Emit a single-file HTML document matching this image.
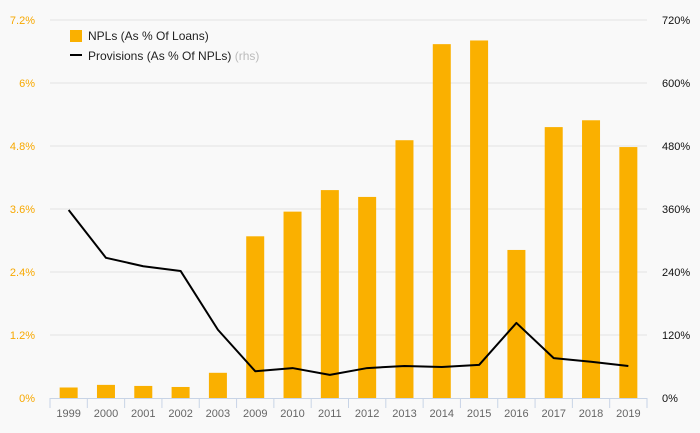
<!DOCTYPE html>
<html><head><meta charset="utf-8"><style>
html,body{margin:0;padding:0;background:#f9f9f9;}
svg{display:block;font-family:"Liberation Sans",sans-serif;}
</style></head><body>
<svg id="chart" width="700" height="433"></svg>
<script>
const categories=["1999","2000","2001","2002","2003","2009","2010","2011","2012","2013","2014","2015","2016","2017","2018","2019"];
const nplValues=[0.2,0.25,0.23,0.21,0.48,3.08,3.55,3.96,3.83,4.91,6.74,6.81,2.82,5.16,5.29,4.78];
const provisionValues=[358,267,251,242,130,51,57,44,57,61,59,63,143,76,69,61];
const leftTicks=[0,1.2,2.4,3.6,4.8,6,7.2];
const leftTickLabels=["0%","1.2%","2.4%","3.6%","4.8%","6%","7.2%"];
const rightTickLabels=["0%","120%","240%","360%","480%","600%","720%"];
const rightTicks=[0,120,240,360,480,600,720];

const svg=document.getElementById('chart');
const NS='http://www.w3.org/2000/svg';
const X0=50,X1=647,Y0=398,Y1=20;
const bw=(X1-X0)/categories.length;
const yL=v=>Y0-(v/7.2)*(Y0-Y1);
const yR=v=>Y0-(v/720)*(Y0-Y1);
const xC=i=>X0+bw*(i+0.5);
function mk(tag,attrs,parent){const e=document.createElementNS(NS,tag);for(const k in attrs)e.setAttribute(k,attrs[k]);(parent||svg).appendChild(e);return e;}

leftTicks.forEach((t,i)=>{
  if(t>0){const g=mk('line',{x1:X0,x2:X1,y1:yL(t),y2:yL(t),stroke:'#e4e4e4','stroke-width':1});
  
  }
  const l=mk('text',{x:35,y:yL(t)+4,'text-anchor':'end','font-size':11,fill:'#f7a800'});
  l.textContent=leftTickLabels[i];
  
  
});
rightTicks.forEach((t,i)=>{
  const l=mk('text',{x:662,y:yR(t)+4,'font-size':11,fill:'#111'});
  l.textContent=rightTickLabels[i];
  
  
});
nplValues.forEach((v,i)=>{
  const r=mk('rect',{x:xC(i)-9,y:yL(v),width:18,height:Y0-yL(v),fill:'#fab000'});
  
  
});
const ax=mk('line',{x1:X0,x2:X1,y1:Y0+0.5,y2:Y0+0.5,stroke:'#c8d4e6','stroke-width':1});


for(let i=0;i<=categories.length;i++){
  const tk=mk('line',{x1:X0+bw*i,x2:X0+bw*i,y1:Y0,y2:Y0+10,stroke:'#c8d4e6','stroke-width':1});
  
  
}
categories.forEach((c,i)=>{
  const l=mk('text',{x:xC(i),y:417,'text-anchor':'middle','font-size':11,fill:'#666'});
  l.textContent=c;
  
  
});
const pts=provisionValues.map((v,i)=>xC(i)+','+yR(v)).join(' ');
const pl=mk('polyline',{points:pts,fill:'none',stroke:'#000','stroke-width':2,'stroke-linejoin':'round'});



const lg=mk('g',{});


const s1=mk('rect',{x:70,y:30,width:12,height:12,fill:'#fab000'},lg);


const t1=mk('text',{x:88,y:40,'font-size':12,fill:'#222'},lg);
t1.textContent='NPLs (As % Of Loans)';


const s2=mk('line',{x1:70,x2:82,y1:55,y2:55,stroke:'#000','stroke-width':2},lg);


const t2=mk('text',{x:88,y:60,'font-size':12,fill:'#222'},lg);
t2.innerHTML='Provisions (As % Of NPLs) <tspan fill="#bbb">(rhs)</tspan>';


</script>
</body></html>
